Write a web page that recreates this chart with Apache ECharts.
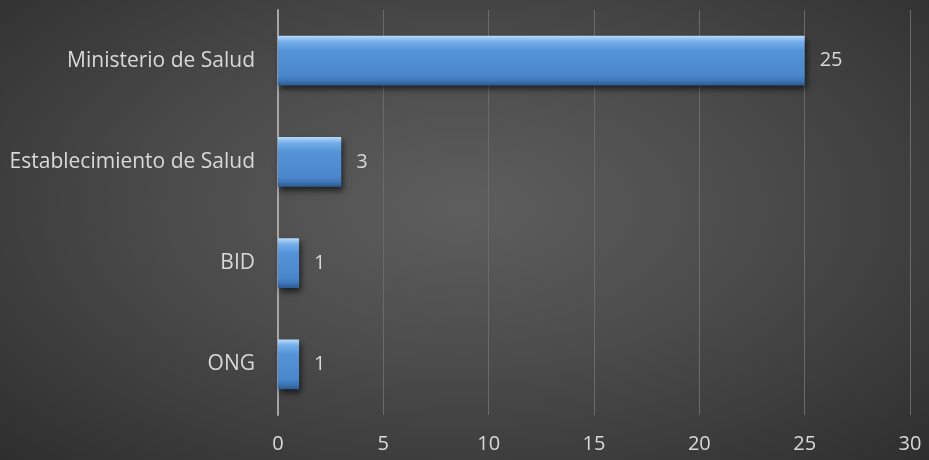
<!DOCTYPE html>
<html><head><meta charset="utf-8">
<script src="https://cdn.jsdelivr.net/npm/echarts@6/dist/echarts.min.js"></script>
<style>html,body{margin:0;padding:0;}#c{width:929px;height:460px;background:radial-gradient(ellipse at 50% 45%, #5e5e5e 0%, #4b4b4b 45%, #2e2e2e 100%);}</style>
</head><body><div id="c"></div>
<script>
const categories = ['Ministerio de Salud', 'Establecimiento de Salud', 'BID', 'ONG'];
const values = [25, 3, 1, 1];
const xTicks = [0, 5, 10, 15, 20, 25, 30];

const chart = echarts.init(document.getElementById('c'));
chart.setOption({
  backgroundColor: 'transparent',
  animation: false,
  grid: { left: 278, right: 19, top: 10, bottom: 45, containLabel: false },
  xAxis: {
    type: 'value', min: xTicks[0], max: xTicks[xTicks.length - 1], interval: 5,
    axisLine: { show: false }, axisTick: { show: false },
    splitLine: { show: true, lineStyle: { color: '#6a6a6a', width: 1 } },
    axisLabel: { color: '#d9d9d9', fontSize: 20, fontFamily: 'Open Sans', margin: 19 }
  },
  yAxis: {
    type: 'category', inverse: true, data: categories,
    axisLine: { show: true, lineStyle: { color: '#a6a6a6', width: 2 } },
    axisTick: { show: false },
    axisLabel: { color: '#d9d9d9', fontSize: 21, fontFamily: 'Open Sans', margin: 23 }
  },
  series: [{
    type: 'bar', data: values, barWidth: '49%',
    itemStyle: {
      color: { type: 'linear', x: 0, y: 0, x2: 0, y2: 1, colorStops: [
        { offset: 0, color: '#b5dbfa' }, { offset: 0.12, color: '#74aeea' },
        { offset: 0.3, color: '#5593d8' }, { offset: 0.8, color: '#4a86cc' },
        { offset: 0.9, color: '#3f77b8' }, { offset: 1, color: '#2d5a92' } ] },
      shadowColor: 'rgba(0,0,0,0.6)', shadowBlur: 6, shadowOffsetX: 2, shadowOffsetY: 4
    },
    label: { show: true, position: 'right', distance: 15, color: '#d9d9d9', fontSize: 20, fontFamily: 'Open Sans' }
  }]
});
</script></body></html>
